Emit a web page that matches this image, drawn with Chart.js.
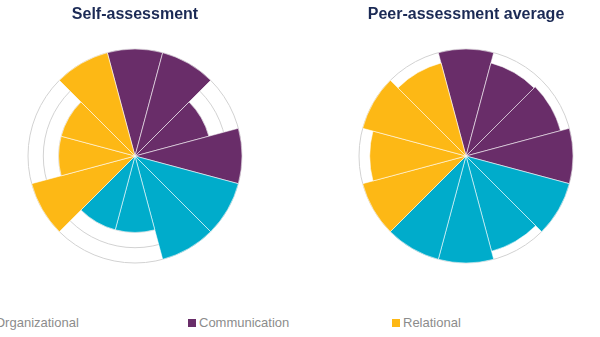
<!DOCTYPE html>
<html>
<head>
<meta charset="utf-8">
<script src="https://cdn.jsdelivr.net/npm/chart.js@4"></script>
<style>
    body { margin: 0; background: #fff; width: 600px; height: 337px; overflow: hidden; position: relative; font-family: "Liberation Sans", Arial, sans-serif; }
    canvas { position: absolute; top: 0; }
    #legend { position: absolute; left: 0; top: 315px; width: 600px; height: 16px; }
    .item { position: absolute; top: 0; font-size: 13px; color: #8c8c8c; line-height: 16px; white-space: nowrap; }
    .box { display: inline-block; width: 8px; height: 8px; margin-right: 3px; vertical-align: 0px; }
</style>
</head>
<body>
<canvas id="selfChart" width="240" height="264" style="left:15px"></canvas>
<canvas id="peerChart" width="240" height="264" style="left:346px"></canvas>
<div id="legend"></div>
<script>
// groups and colours
const groups = ['Organizational', 'Communication', 'Relational'];
const groupColors = ['#00accb', '#692d69', '#fdb815'];

// segments, clockwise from the top
const segmentGroups = [1, 1, 1, 1, 0, 0, 0, 0, 2, 2, 2, 2];
const segmentLabels = ['C1', 'C2', 'C3', 'C4', 'O1', 'O2', 'O3', 'O4', 'R1', 'R2', 'R3', 'R4'];

const selfValues = [7, 7, 5, 7, 7, 7, 5, 5, 7, 5, 5, 7];
const peerValues = [7, 6.3, 6.4, 7, 7, 6.45, 7, 7, 7, 6.3, 7, 6.3];

const scaleMax = 7;

function makeChart(id, title, values) {
    return new Chart(document.getElementById(id), {
        type: 'polarArea',
        data: {
            labels: segmentLabels,
            datasets: [{
                data: values,
                backgroundColor: segmentGroups.map(g => groupColors[g]),
                borderColor: 'rgba(255,255,255,0.55)',
                borderWidth: 1
            }]
        },
        options: {
            responsive: false,
            animation: false,
            devicePixelRatio: 1,
            layout: { padding: 0 },
            plugins: {
                legend: { display: false },
                tooltip: { enabled: false },
                title: {
                    display: true,
                    text: title,
                    color: '#1b2a55',
                    font: { family: 'Liberation Sans', size: 16, weight: 'bold' },
                    padding: { top: 5, bottom: 24 }
                }
            },
            scales: {
                r: {
                    min: 0,
                    max: scaleMax,
                    startAngle: -15,
                    ticks: { display: false, stepSize: 1 },
                    grid: { color: '#d2d2d2', lineWidth: 1 },
                    angleLines: { display: false },
                    pointLabels: { display: false }
                }
            }
        }
    });
}

makeChart('selfChart', 'Self-assessment', selfValues);
makeChart('peerChart', 'Peer-assessment average', peerValues);

// legend
const legendX = [-16, 188, 392];
const legend = document.getElementById('legend');
groups.forEach((g, i) => {
    legend.innerHTML += `<div class="item" style="left:${legendX[i]}px"><span class="box" style="background:${groupColors[i]}"></span>${g}</div>`;
});
</script>
</body>
</html>
